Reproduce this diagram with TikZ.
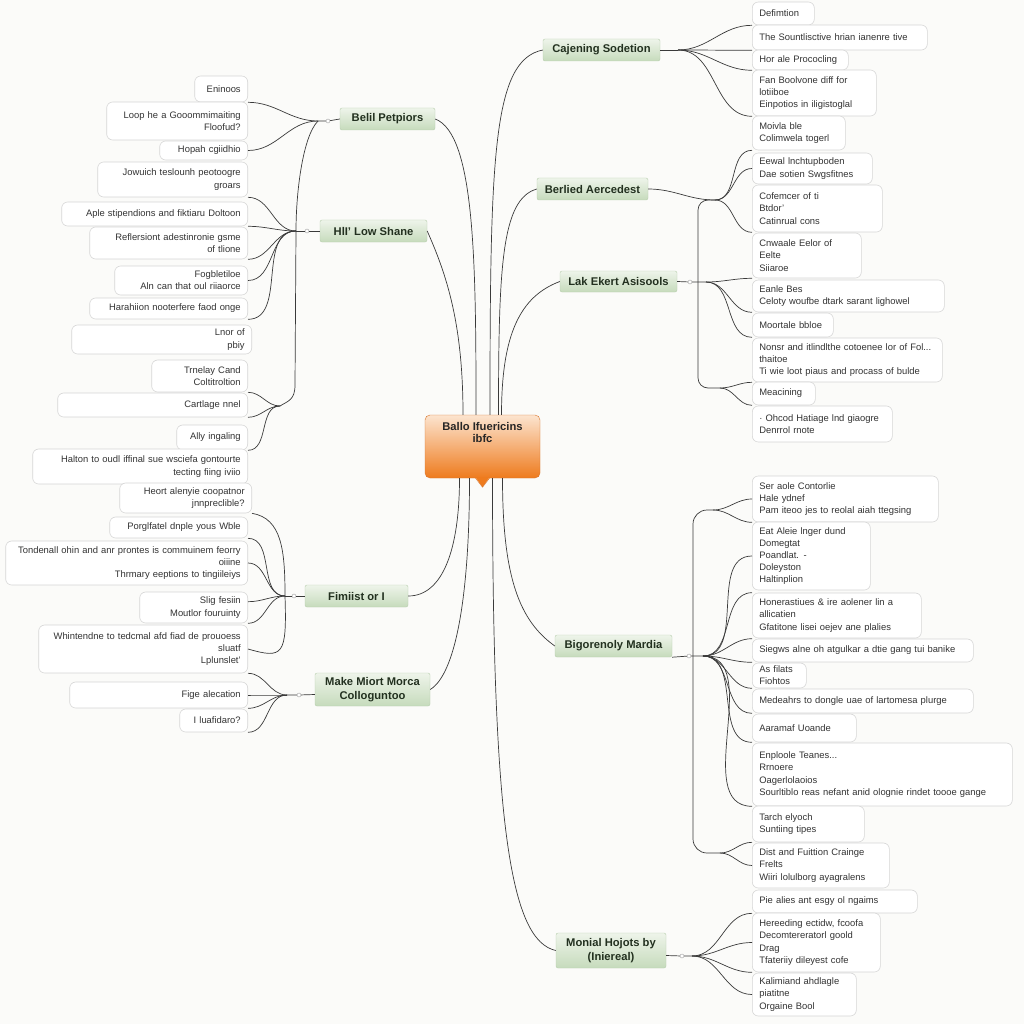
\documentclass[tikz,border=0pt]{standalone}
\usepackage{fontspec}
\setsansfont{Liberation Sans}
\usepackage{xcolor}
\definecolor{pagebg}{HTML}{FBFBF9}
\definecolor{leafgray}{HTML}{D6D6D6}
\definecolor{leaftext}{HTML}{333333}
\definecolor{linkgray}{HTML}{3A3A3A}
\definecolor{branchtop}{HTML}{EEF4EA}
\definecolor{branchbot}{HTML}{C6DBBC}
\definecolor{branchline}{HTML}{B7CEAE}
\definecolor{branchtext}{HTML}{22301F}
\definecolor{ctrtop}{HTML}{FCE4CF}
\definecolor{ctrbot}{HTML}{EE7B1E}
\definecolor{ctrline}{HTML}{D8742C}
\usetikzlibrary{positioning}

\begin{document}
\begin{tikzpicture}[x=1pt, y=-1pt,
  every node/.style={font=\sffamily},
  leafl/.style={draw=leafgray, line width=0.6pt, rounded corners=6pt, fill=white, anchor=east,
                align=right, inner xsep=7pt, inner ysep=2pt, text=leaftext,
                font=\sffamily\fontsize{9.4}{12.2}\selectfont},
  leafr/.style={leafl, anchor=west, align=left},
  branch/.style={draw=branchline, top color=branchtop, bottom color=branchbot, rounded corners=2pt,
                 align=center, inner sep=2pt, text=branchtext,
                 font=\sffamily\bfseries\fontsize{11.2}{13.5}\selectfont},
  hubdot/.style={circle, draw=gray!75, fill=white, inner sep=0pt, minimum size=4pt},
  link/.style={draw=linkgray, line width=0.7pt},
]
  \fill[pagebg] (0,0) rectangle (1024,1024);
  \useasboundingbox (0,0) rectangle (1024,1024);

  % centre
  \node[draw=ctrline, top color=ctrtop, bottom color=ctrbot, rounded corners=5pt,
        minimum width=115pt, minimum height=63pt] (ctr) at (482.5,446.5) {};
  \fill[ctrbot] ([xshift=-7pt,yshift=1pt]ctr.south) -- ([yshift=-9pt]ctr.south) -- ([xshift=7pt,yshift=1pt]ctr.south) -- cycle;
  \draw[ctrline] ([xshift=-7pt]ctr.south) -- ([yshift=-9pt]ctr.south) -- ([xshift=7pt]ctr.south);
  \node[anchor=north, align=center, text=black!85, font=\sffamily\bfseries\fontsize{11.2}{12}\selectfont]
    (ctrtext) at ([yshift=-4pt]ctr.north) {Ballo Ifuericins\\ibfc};

  % main branches
  \node[branch, minimum width=95pt, minimum height=22pt] (b1) at (387.5,119) {Belil Petpiors};
  \node[branch, minimum width=107pt, minimum height=22pt] (b2) at (373.5,231) {HlI' Low Shane};
  \node[branch, minimum width=103pt, minimum height=22pt] (b3) at (356.5,596) {Fimiist or I};
  \node[branch, minimum width=115pt, minimum height=33pt] (b4) at (372.5,689.5) {Make Miort Morca\\Colloguntoo};
  \node[branch, minimum width=117pt, minimum height=22pt] (b5) at (601.5,50) {Cajening Sodetion};
  \node[branch, minimum width=111pt, minimum height=22pt] (b6) at (592.5,189) {Berlied Aercedest};
  \node[branch, minimum width=117pt, minimum height=21pt] (b7) at (618.5,281.5) {Lak Ekert Asisools};
  \node[branch, minimum width=117pt, minimum height=22pt] (b8) at (613.5,646) {Bigorenoly Mardia};
  \node[branch, minimum width=110pt, minimum height=35pt] (b9) at (611,950.5) {Monial Hojots by\\(Iniereal)};

  % left leaves
  \node[leafl, text width=39pt, minimum height=26pt] (l1) at (248,89) {Eninoos};
  \node[leafl, text width=127pt, minimum height=38pt] (l2) at (248,121) {Loop he a Gooommimaiting\\Floofud?};
  \node[leafl, text width=74pt, minimum height=19pt] (l3) at (248,150.5) {Hopah cgiidhio};
  \node[leafl, text width=136pt, minimum height=35pt] (l4) at (248,179.5) {Jowuich teslounh peotoogre\\groars};
  \node[leafl, text width=172pt, minimum height=24pt] (l5) at (248,214) {Aple stipendions and fiktiaru Doltoon};
  \node[leafl, text width=144pt, minimum height=32pt] (l6) at (248,243) {Reflersiont adestinronie gsme\\of tlione};
  \node[leafl, text width=119pt, minimum height=29pt] (l7) at (248,280.5) {Fogbletiloe\\Aln can that oul riiaorce};
  \node[leafl, text width=144pt, minimum height=21pt] (l8) at (248,308.5) {Harahiion nooterfere faod onge};
  \node[leafl, text width=166pt, minimum height=29pt] (l9) at (252,339.5) {Lnor of\\pbiy};
  \node[leafl, text width=82pt, minimum height=32pt] (l10) at (248,376) {Trnelay Cand\\Coltitroltion};
  \node[leafl, text width=176pt, minimum height=24pt] (l11) at (248,405) {Cartlage nnel};
  \node[leafl, text width=57pt, minimum height=25pt] (l12) at (248,437.5) {Ally ingaling};
  \node[leafl, text width=201pt, minimum height=35pt] (l13) at (248,466.5) {Halton to oudl iffinal sue wsciefa gontourte\\tecting fiing iviio};
  \node[leafl, text width=118pt, minimum height=30pt] (l14) at (252,498) {Heort alenyie coopatnor\\jnnpreclible?};
  \node[leafl, text width=124pt, minimum height=21pt] (l15) at (248,527.5) {Porglfatel dnple yous Wble};
  \node[leafl, text width=228pt, minimum height=44pt] (l16) at (248,563) {Tondenall ohin and anr prontes is commuinem feorry\\oiiine\\Thrmary eeptions to tingiileiys};
  \node[leafl, text width=94pt, minimum height=31pt] (l17) at (248,607.5) {Slig fesiin\\Moutlor fouruinty};
  \node[leafl, text width=195pt, minimum height=48pt] (l18) at (248,649) {Whintendne to tedcmal afd fiad de prouoess\\sluatf\\Lplunslet'};
  \node[leafl, text width=164pt, minimum height=26pt] (l19) at (248,695) {Fige alecation};
  \node[leafl, text width=54pt, minimum height=23pt] (l20) at (248,720.5) {I luafidaro?};

  % right leaves
  \node[leafr, text width=48pt, minimum height=23pt] (r1) at (752,13.5) {Defimtion};
  \node[leafr, text width=161pt, minimum height=25pt] (r2) at (752,37.5) {The Sountlisctive hrian ianenre tive};
  \node[leafr, text width=82pt, minimum height=20pt] (r3) at (752,60) {Hor ale Prococling};
  \node[leafr, text width=110pt, minimum height=46pt] (r4) at (752,93) {Fan Boolvone diff for\\lotiiboe\\Einpotios in iligistoglal};
  \node[leafr, text width=79pt, minimum height=34pt] (r5) at (752,133) {Moivla ble\\Colimwela togerl};
  \node[leafr, text width=106pt, minimum height=31pt] (r6) at (752,168.5) {Eewal lnchtupboden\\Dae sotien Swgsfitnes};
  \node[leafr, text width=116pt, minimum height=47pt] (r7) at (752,208.5) {Cofemcer of ti\\Btdor'\\Catinrual cons};
  \node[leafr, text width=95pt, minimum height=45pt] (r8) at (752,255.5) {Cnwaale Eelor of\\Eelte\\Siiaroe};
  \node[leafr, text width=178pt, minimum height=32pt] (r9) at (752,296) {Eanle Bes\\Celoty woufbe dtark sarant lighowel};
  \node[leafr, text width=67pt, minimum height=24pt] (r10) at (752,325) {Moortale bbloe};
  \node[leafr, text width=176pt, minimum height=44pt] (r11) at (752,360) {Nonsr and itlindlthe cotoenee lor of Fol...\\thaitoe\\Ti wie loot piaus and procass of bulde};
  \node[leafr, text width=49pt, minimum height=23pt] (r12) at (752,393.5) {Meacining};
  \node[leafr, text width=126pt, minimum height=36pt] (r13) at (752,424) {· Ohcod Hatiage lnd giaogre\\Denrrol rnote};
  \node[leafr, text width=172pt, minimum height=46pt] (r14) at (752,499) {Ser aole Contorlie\\Hale ydnef\\Pam iteoo jes to reolal aiah ttegsing};
  \node[leafr, text width=104pt, minimum height=68pt] (r15) at (752,556) {Eat Aleie lnger dund\\Domegtat\\Poandlat. -\\Doleyston\\Haltinplion};
  \node[leafr, text width=155pt, minimum height=45pt] (r16) at (752,615.5) {Honerastiues \& ire aolener lin a\\allicatien\\Gfatitone lisei oejev ane plalies};
  \node[leafr, text width=207pt, minimum height=23pt] (r17) at (752,650.5) {Siegws alne oh atgulkar a dtie gang tui banike};
  \node[leafr, text width=40pt, minimum height=25pt] (r18) at (752,675.5) {As filats\\Fiohtos};
  \node[leafr, text width=207pt, minimum height=24pt] (r19) at (752,701) {Medeahrs to dongle uae of lartomesa plurge};
  \node[leafr, text width=90pt, minimum height=28pt] (r20) at (752,728) {Aaramaf Uoande};
  \node[leafr, text width=246pt, minimum height=63pt] (r21) at (752,774.5) {Enploole Teanes...\\Rrnoere\\Oagerlolaoios\\Sourltiblo reas nefant anid olognie rindet toooe gange};
  \node[leafr, text width=98pt, minimum height=36pt] (r22) at (752,824) {Tarch elyoch\\Suntiing tipes};
  \node[leafr, text width=123pt, minimum height=45pt] (r23) at (752,865.5) {Dist and Fuittion Crainge\\Frelts\\Wiiri lolulborg ayagralens};
  \node[leafr, text width=151pt, minimum height=23pt] (r24) at (752,901.5) {Pie alies ant esgy ol ngaims};
  \node[leafr, text width=114pt, minimum height=59pt] (r25) at (752,942.5) {Hereeding ectidw, fcoofa\\Decomtereratorl goold\\Drag\\Tfateriiy dileyest cofe};
  \node[leafr, text width=90pt, minimum height=43pt] (r26) at (752,994.5) {Kalimiand ahdlagle\\piatitne\\Orgaine Bool};

  % hub dots and fan points
  \node[hubdot] (d1) at (328,121) {};
  \node[hubdot] (d2) at (307,231) {};
  \node[hubdot] (d3) at (294,596) {};
  \node[hubdot] (d4) at (299,695) {};
  \node[hubdot] (d7) at (690,282) {};
  \node[hubdot] (d8) at (689,656) {};
  \node[hubdot] (d9) at (682,956) {};
  \coordinate (f1) at (318,121);
  \coordinate (f2) at (296,231);
  \coordinate (v2) at (295,385);
  \coordinate (h2) at (280,406);
  \coordinate (f3) at (285,596);
  \coordinate (f4) at (287,695);
  \coordinate (f5) at (678,50);
  \coordinate (f6) at (715,200);
  \coordinate (v6) at (698,388);
  \coordinate (f12) at (720,388);
  \coordinate (f7) at (706,282);
  \coordinate (f8) at (703,656);
  \coordinate (f14) at (713,510);
  \coordinate (v8) at (693,853);
  \coordinate (f23) at (720,853);
  \coordinate (f9) at (692,956);

  % centre to branches
  \draw[link] ([xshift=-6.5pt]ctr.north) .. controls +(0,-150) and +(40,15) .. (b1.east);
  \draw[link] ([xshift=-19.5pt]ctr.north) .. controls +(0,-90) and +(20,45) .. (b2.east);
  \draw[link] ([xshift=7.5pt]ctr.north) .. controls +(0,-260) and +(-50,10) .. (b5.west);
  \draw[link] ([xshift=16pt]ctr.north) .. controls +(0,-150) and +(-35,10) .. (b6.west);
  \draw[link] ([xshift=19pt]ctr.north) .. controls +(0,-80) and +(-40,15) .. (b7.west);
  \draw[link] ([xshift=-23pt]ctr.south) .. controls +(0,70) and +(35,0) .. (b3.east);
  \draw[link] ([xshift=-13pt]ctr.south) .. controls +(0,120) and +(25,-15) .. (b4.east);
  \draw[link] ([xshift=10pt]ctr.south) .. controls +(0,350) and +(-45,-10) .. (b9.west);
  \draw[link] ([xshift=20pt]ctr.south) .. controls +(0,100) and +(-35,-25) .. (b8.west);

  % left fans
  \draw[link] (b1.west) -- (d1) -- (f1);
  \draw[link] (l1.south east) to[out=0,in=180] (f1);
  \draw[link] (l3.east) to[out=0,in=180] (f1);
  \draw[link] (f1) .. controls +(-15,15) and +(0,-40) .. (f2) -- (v2) .. controls +(0,15) and +(8,-5) .. (h2);
  \draw[link] (b2.west) -- (d2) -- (f2);
  \draw[link] (l4.south east) to[out=0,in=180] (f2);
  \draw[link] (l5.south east) to[out=0,in=180] (f2);
  \draw[link] (l6.south east) to[out=0,in=180] (f2);
  \draw[link] (l7.east) to[out=0,in=180] (f2);
  \draw[link] (l8.south east) to[out=0,in=180] (f2);
  \draw[link] (l10.south east) to[out=0,in=180] (h2);
  \draw[link] (l11.south east) to[out=0,in=180] (h2);
  \draw[link] (l12.south east) to[out=0,in=180] (h2);
  \draw[link] (b3.west) -- (d3) -- (f3);
  \draw[link] (l14.south east) .. controls +(30,5) and +(0,-45) .. (f3);
  \draw[link] (l15.south east) to[out=0,in=180] (f3);
  \draw[link] (l16.east) to[out=0,in=180] (f3);
  \draw[link] (l17.north east) ++(0,10) to[out=0,in=180] (f3);
  \draw[link] (l17.south east) to[out=0,in=180] (f3);
  \draw[link] (f3) .. controls +(2,60) and +(35,10) .. (l18.east);
  \draw[link] ([yshift=-5pt]b4.west) -- (d4) -- (f4);
  \draw[link] (l18.south east) to[out=0,in=180] (f4);
  \draw[link] (l19.east) to[out=0,in=180] (f4);
  \draw[link] (l19.south east) to[out=0,in=180] (f4);
  \draw[link] (l20.south east) to[out=0,in=180] (f4);

  % right fans
  \draw[link] (b5.east) -- (f5);
  \draw[link] (f5) to[out=0,in=180] (r1.south west);
  \draw[link] (f5) to[out=0,in=180] (r2.south west);
  \draw[link] (f5) to[out=0,in=180] (r3.south west);
  \draw[link] (f5) to[out=0,in=180] (r4.south west);
  \draw[link] (b6.east) to[out=0,in=180] (f6);
  \draw[link] (f6) to[out=0,in=180] (r5.south west);
  \draw[link] (f6) to[out=0,in=180] (r6.west);
  \draw[link] (f6) to[out=0,in=180] (r7.south west);
  \draw[link, rounded corners=10pt] (f6) -| (v6) -- (f12);
  \draw[link] (f12) to[out=0,in=180] (r11.south west);
  \draw[link] (f12) to[out=0,in=180] (r12.south west);
  \draw[link] (b7.east) -- (d7) -- (f7);
  \draw[link] (f7) to[out=0,in=180] (r8.south west);
  \draw[link] (f7) to[out=0,in=180] (r9.south west);
  \draw[link] (f7) to[out=0,in=180] (r10.south west);
  \draw[link] (b8.south east) -- (d8) -- (f8);
  \draw[link, rounded corners=14pt] (f14) -| (v8) -- (f23);
  \draw[link] (f14) to[out=0,in=180] (r14.west);
  \draw[link] (f14) to[out=0,in=180] (r14.south west);
  \draw[link] (f8) to[out=0,in=180] (r15.west);
  \draw[link] (f8) to[out=0,in=180] (r16.north west);
  \draw[link] (f8) to[out=0,in=180] (r17.north west);
  \draw[link] (f8) to[out=0,in=180] (r17.south west);
  \draw[link] (f8) to[out=0,in=180] (r18.south west);
  \draw[link] (f8) to[out=0,in=180] (r19.south west);
  \draw[link] (f8) to[out=0,in=180] (r20.south west);
  \draw[link] (f8) to[out=0,in=180] (r21.south west);
  \draw[link] (f23) to[out=0,in=180] (r22.south west);
  \draw[link] (f23) to[out=0,in=180] (r23.west);
  \draw[link] ([yshift=-5pt]b9.east) -- (d9) -- (f9);
  \draw[link] (f9) to[out=0,in=180] (r24.south west);
  \draw[link] (f9) to[out=0,in=180] (r25.west);
  \draw[link] (f9) to[out=0,in=180] (r25.south west);
  \draw[link] (f9) to[out=0,in=180] (r26.west);
\end{tikzpicture}
\end{document}
